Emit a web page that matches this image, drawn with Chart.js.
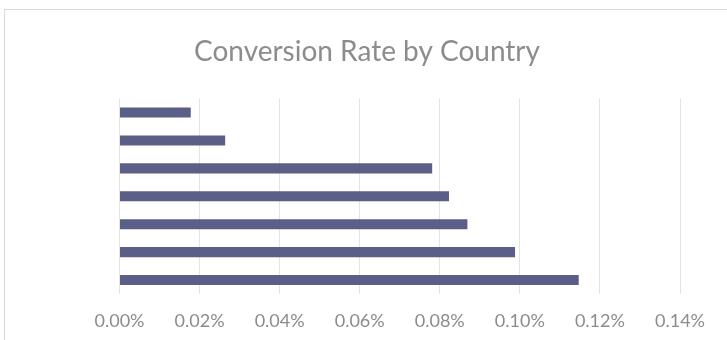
<!DOCTYPE html>
<html>
<head>
<meta charset="utf-8">
<script src="https://cdn.jsdelivr.net/npm/chart.js@4/dist/chart.umd.min.js"></script>
<style>
  html, body { margin: 0; padding: 0; background: #fff; }
  #wrap { position: relative; width: 727px; height: 340px; overflow: hidden; }
  #frame { position: absolute; left: 4px; top: 9px; width: 740px; height: 360px; border: 1px solid #d9d9d9; box-sizing: border-box; }
  #chart { position: absolute; left: 0; top: 0; }
</style>
</head>
<body>
<div id="wrap">
  <div id="frame"></div>
  <canvas id="chart" width="727" height="340"></canvas>
</div>
<script>
// Данни (стойности в проценти)
const countries = ['Country 1', 'Country 2', 'Country 3', 'Country 4', 'Country 5', 'Country 6', 'Country 7'];
const conversionRates = [0.0178, 0.0264, 0.0781, 0.0823, 0.0869, 0.0988, 0.1147];
const axisMin = 0;
const axisMax = 0.14;
const axisStep = 0.02;

const textGray = '#8c8c8c';
const gridGray = '#e3e3e3';
const barColor = '#5b5e86';

new Chart(document.getElementById('chart'), {
    type: 'bar',
    data: {
        labels: countries,
        datasets: [{
            label: 'Conversion Rate',
            data: conversionRates,
            backgroundColor: barColor,
            borderWidth: 0,
            categoryPercentage: 1,
            barPercentage: 0.36
        }]
    },
    options: {
        indexAxis: 'y',
        responsive: false,
        animation: false,
        layout: {
            padding: { left: 7, right: 0, top: 35, bottom: 0 }
        },
        plugins: {
            legend: { display: false },
            tooltip: { enabled: false },
            title: {
                display: true,
                text: 'Conversion Rate by Country',
                color: textGray,
                font: { family: 'Lato', size: 28, weight: 'normal', lineHeight: 1.2 },
                padding: { top: 0, bottom: 30 }
            }
        },
        scales: {
            x: {
                min: axisMin,
                max: axisMax,
                ticks: {
                    stepSize: axisStep,
                    color: textGray,
                    font: { family: 'Lato', size: 18 },
                    padding: 16,
                    callback: v => v.toFixed(2) + '%'
                },
                grid: { color: gridGray, drawTicks: false },
                border: { display: false },
                afterFit: s => { s.height = 46; }
            },
            y: {
                ticks: { display: false },
                grid: { display: false },
                border: { display: false },
                afterFit: s => { s.width = 112.5; }
            },
            // пустата дясна ос само запазва място вдясно
            yRight: {
                type: 'category',
                position: 'right',
                ticks: { display: false },
                grid: { display: false },
                border: { display: false },
                afterFit: s => { s.width = 47; }
            }
        }
    }
});
</script>
</body>
</html>
